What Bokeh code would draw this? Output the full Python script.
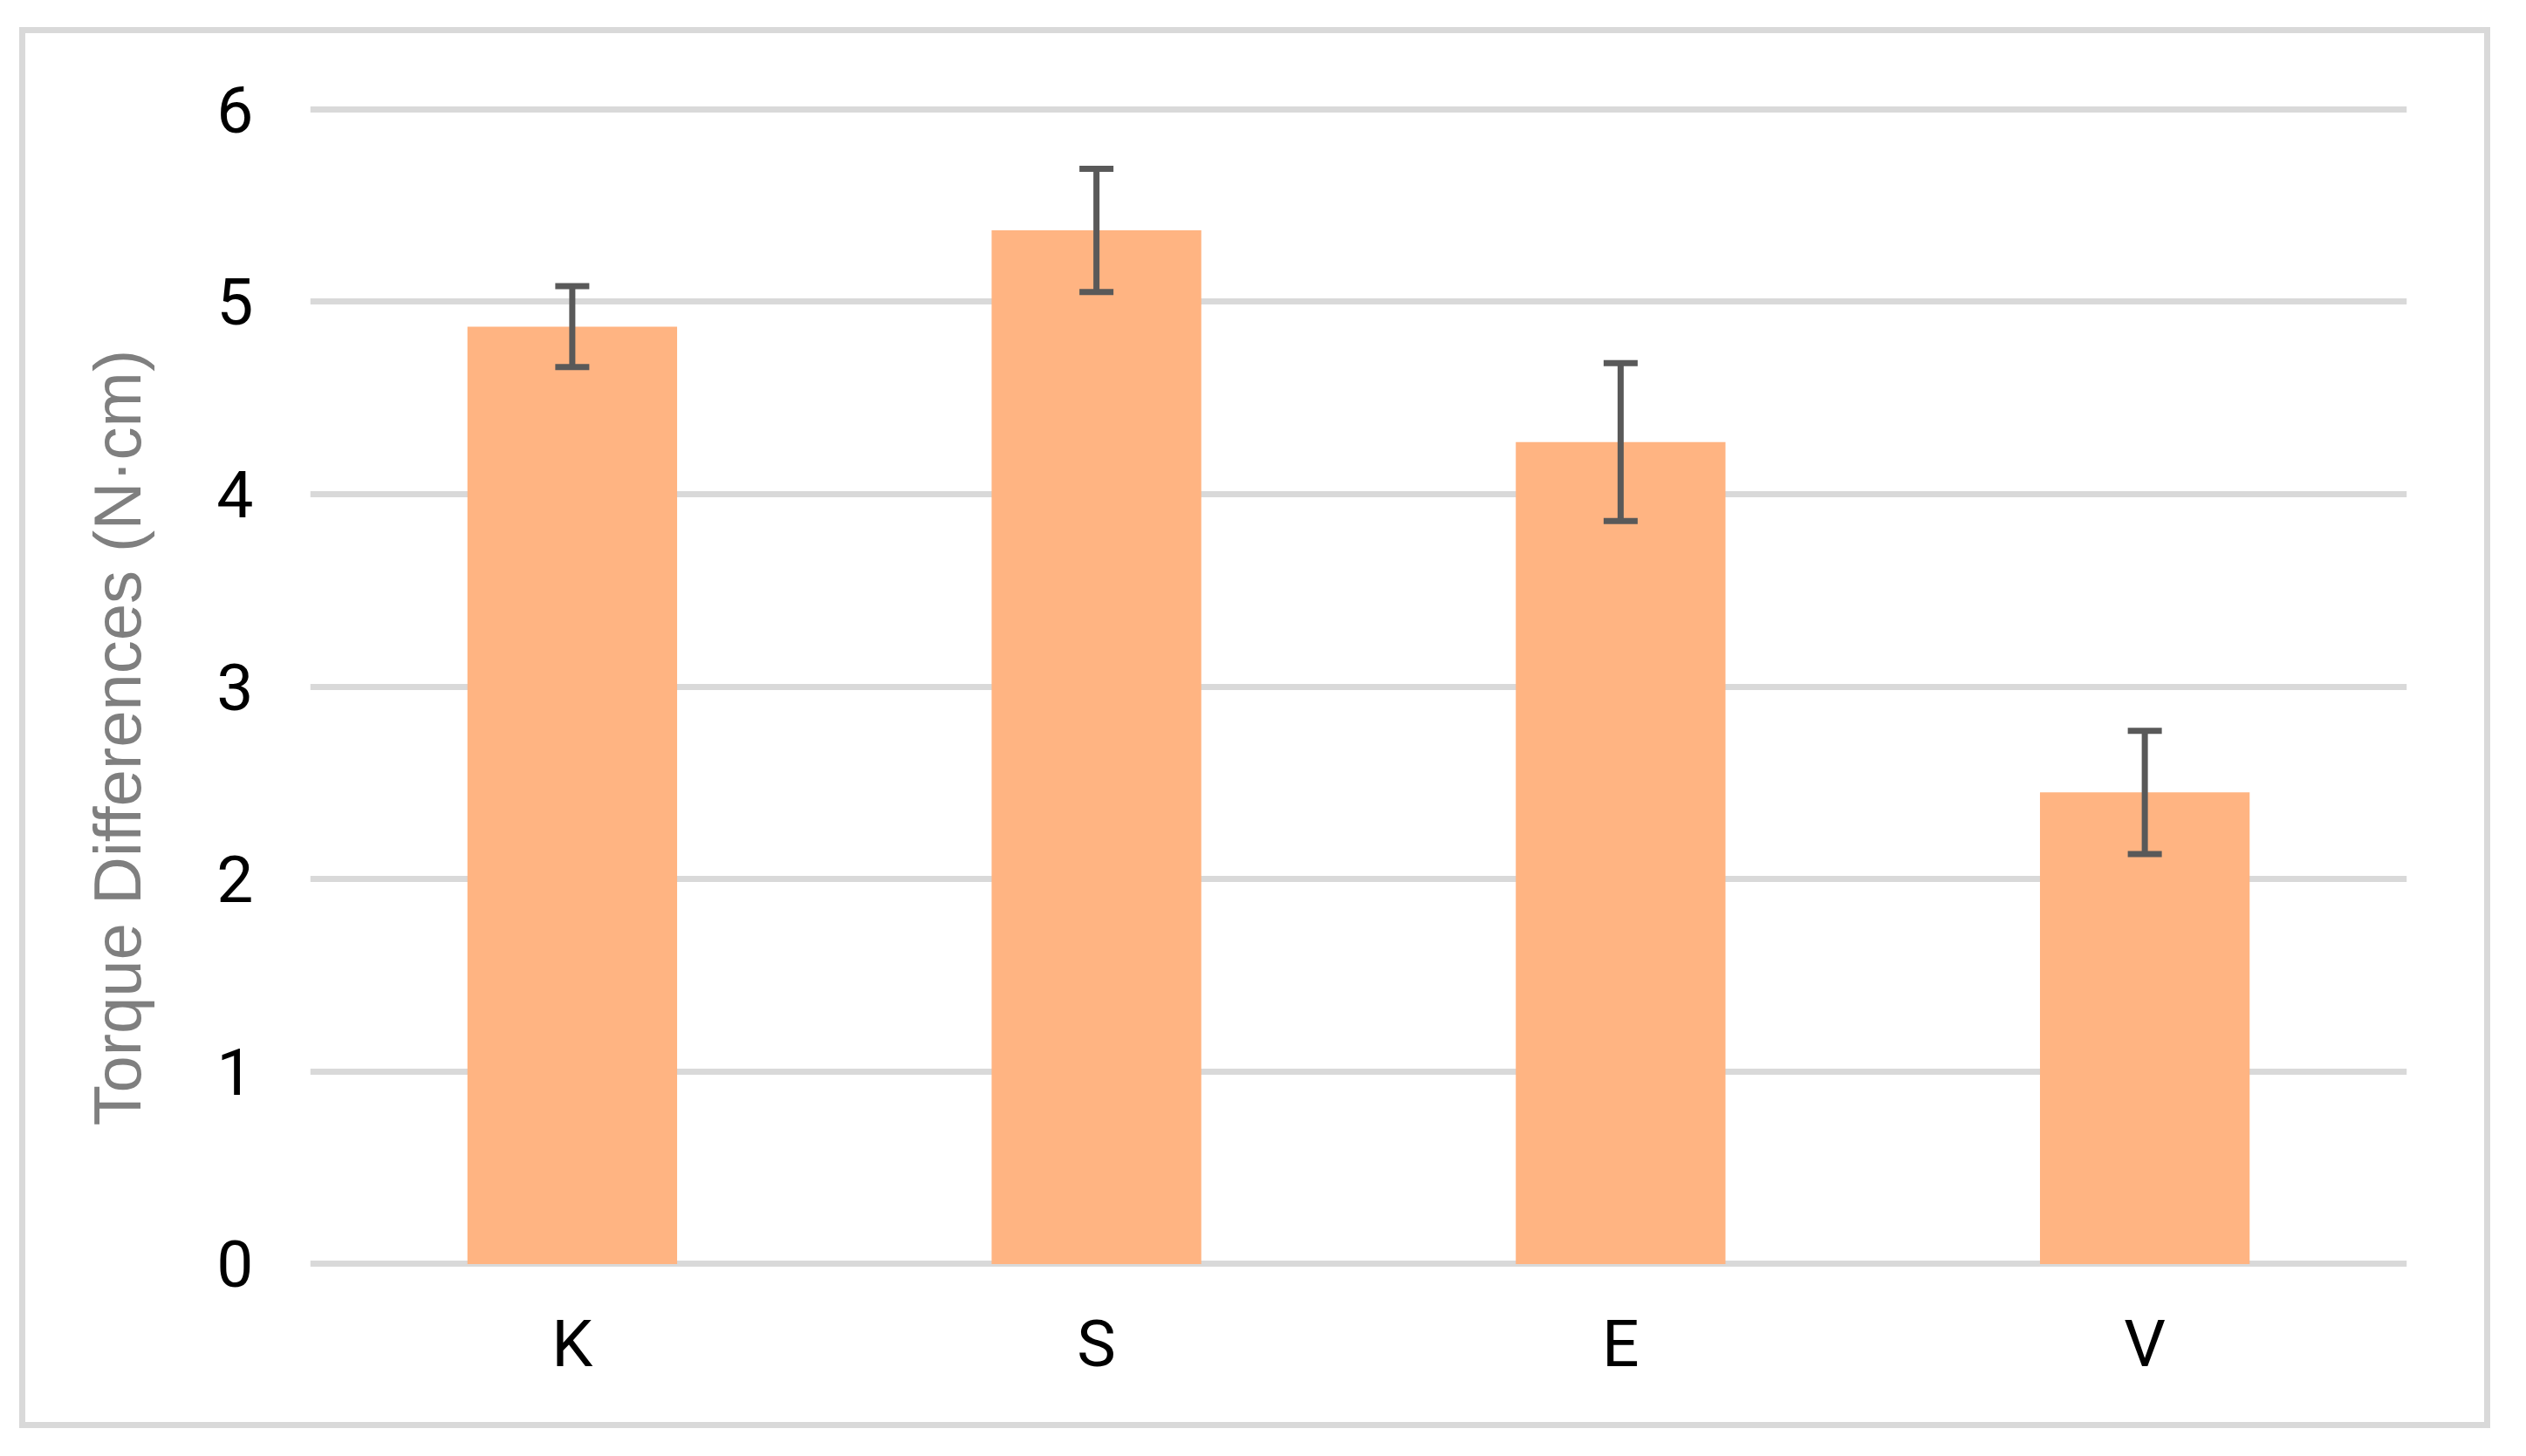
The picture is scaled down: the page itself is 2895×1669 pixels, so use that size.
from bokeh.plotting import figure
from bokeh.models import (ColumnDataSource, FactorRange, Range1d, Whisker, TeeHead,
                          FixedTicker, Title, InlineStyleSheet)
from bokeh.embed import file_html
from bokeh.resources import INLINE

# ---- data ----
categories = ["K", "S", "E", "V"]
means = [4.87, 5.37, 4.27, 2.45]
errors = [0.21, 0.32, 0.41, 0.32]
y_ticks = [0, 1, 2, 3, 4, 5, 6]
y_title = "Torque Differences (N·cm)"

upper = [m + e for m, e in zip(means, errors)]
lower = [m - e for m, e in zip(means, errors)]
src = ColumnDataSource(dict(cat=categories, mean=means, upper=upper, lower=lower))

TICK_FONT = "Roboto"
TITLE_FONT = "Liberation Sans"

border_css = """
:host { position: relative; }
:host::after {
  content: '';
  position: absolute;
  left: 22px; top: 31px;
  width: 2832px; height: 1606px;
  border: 7px solid #d9d9d9;
  box-sizing: border-box;
  pointer-events: none;
}
"""

p = figure(width=2879, height=1653,
           x_range=FactorRange(*categories), y_range=Range1d(-0.03, 6.03),
           output_backend="svg", toolbar_location=None,
           min_border_left=355, min_border_right=121,
           min_border_top=118, min_border_bottom=198,
           stylesheets=[InlineStyleSheet(css=border_css)])
p.outline_line_color = None
p.background_fill_color = "white"
p.border_fill_color = "white"

p.xgrid.grid_line_color = None
p.ygrid.ticker = FixedTicker(ticks=y_ticks)
p.ygrid.grid_line_color = "#d9d9d9"
p.ygrid.grid_line_width = 7

p.yaxis.ticker = FixedTicker(ticks=y_ticks)
for ax in (p.xaxis[0], p.yaxis[0]):
    ax.axis_line_color = None
    ax.major_tick_line_color = None
    ax.minor_tick_line_color = None
    ax.major_tick_out = 0
    ax.major_tick_in = 0
    ax.major_label_text_font = TICK_FONT
    ax.major_label_text_font_size = "75px"
    ax.major_label_text_color = "#000000"
p.yaxis.major_label_standoff = 65
p.xaxis.major_label_standoff = 40

p.vbar(x="cat", top="mean", bottom=0, width=0.4, source=src,
       fill_color="#FFB482", line_color=None)

err = Whisker(base="cat", upper="upper", lower="lower", source=src,
              line_color="#595959", line_width=7, level="overlay",
              upper_head=TeeHead(size=39, line_color="#595959", line_width=7),
              lower_head=TeeHead(size=39, line_color="#595959", line_width=7))
p.add_layout(err)

ytitle = Title(text=y_title, align="left", offset=165, standoff=138,
               text_font=TITLE_FONT, text_font_size="76px",
               text_font_style="normal", text_color="#7f7f7f")
p.add_layout(ytitle, "left")

open("out.html", "w").write(file_html(p, INLINE))
